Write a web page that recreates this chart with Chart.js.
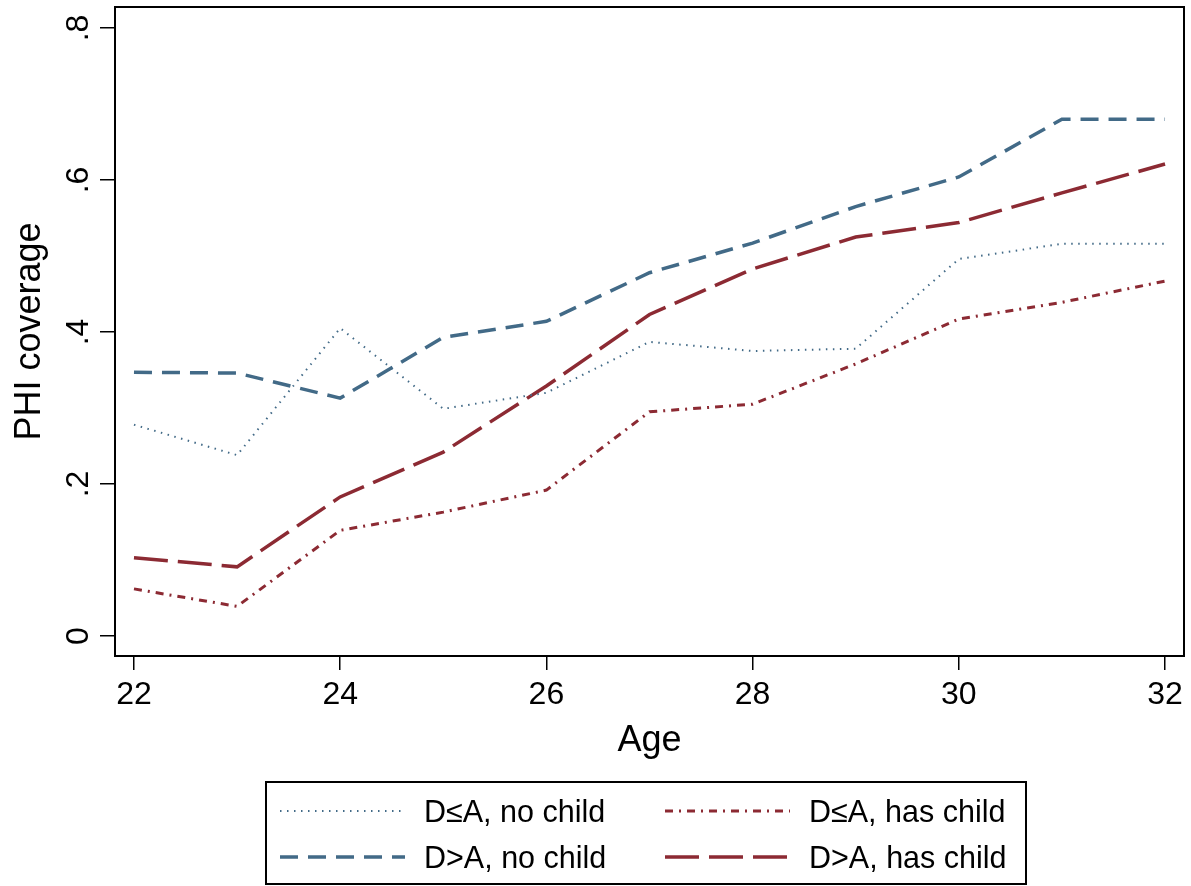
<!DOCTYPE html>
<html>
<head>
<meta charset="utf-8">
<script src="https://cdn.jsdelivr.net/npm/chart.js@4"></script>
<style>
  body { margin: 0; background: #fff; }
  #wrap { position: relative; width: 1191px; height: 886px; }
  #legend {
    position: absolute; left: 265px; top: 781px; width: 762px; height: 104px;
    border: 2px solid #000; box-sizing: border-box;
    font-family: "Liberation Sans", Arial, sans-serif; font-size: 30.5px; color: #000;
  }
  .item { position: absolute; display: flex; align-items: center; height: 40px; }
  .item span { margin-left: 19px; white-space: nowrap; }
</style>
</head>
<body>
<div id="wrap">
  <canvas id="chart" width="1191" height="886"></canvas>
  <div id="legend"></div>
</div>
<script>
const ages = [22, 23, 24, 25, 26, 27, 28, 29, 30, 31, 32];
const leNoChild  = [0.278, 0.238, 0.405, 0.299, 0.320, 0.387, 0.375, 0.378, 0.496, 0.516, 0.516];
const gtNoChild  = [0.347, 0.346, 0.313, 0.393, 0.414, 0.478, 0.517, 0.565, 0.604, 0.680, 0.680];
const leHasChild = [0.062, 0.039, 0.139, 0.163, 0.192, 0.295, 0.305, 0.358, 0.417, 0.439, 0.467];
const gtHasChild = [0.103, 0.091, 0.183, 0.242, 0.329, 0.423, 0.483, 0.525, 0.544, 0.583, 0.621];
const xTicks = [22, 24, 26, 28, 30, 32];
const yTicks = [0, 0.2, 0.4, 0.6, 0.8];

const blue = '#426a87';
const red = '#8c2a33';

const series = [
  { label: 'D\u2264A, no child',  data: leNoChild,  color: blue, width: 2,   dash: [1.5, 5.5] },
  { label: 'D>A, no child',       data: gtNoChild,  color: blue, width: 3.5, dash: [18, 10] },
  { label: 'D\u2264A, has child', data: leHasChild, color: red,  width: 3,   dash: [8, 6, 2, 6] },
  { label: 'D>A, has child',      data: gtHasChild, color: red,  width: 3.5, dash: [34, 10] }
];

const frame = {
  id: 'frame',
  afterDraw(chart) {
    const a = chart.chartArea;
    const ctx = chart.ctx;
    ctx.save();
    ctx.strokeStyle = '#000';
    ctx.lineWidth = 2;
    ctx.strokeRect(a.left, a.top, a.right - a.left, a.bottom - a.top);
    ctx.restore();
  }
};

const font = "'Liberation Sans', Arial, sans-serif";

new Chart(document.getElementById('chart'), {
  type: 'line',
  data: {
    datasets: series.map(s => ({
      label: s.label,
      data: ages.map((a, i) => ({ x: a, y: s.data[i] })),
      borderColor: s.color,
      borderWidth: s.width,
      borderDash: s.dash,
      pointRadius: 0,
      tension: 0,
      fill: false
    }))
  },
  options: {
    responsive: false,
    animation: false,
    layout: { padding: { top: 7, right: 7, left: 0, bottom: 130 } },
    plugins: { legend: { display: false }, tooltip: { enabled: false } },
    scales: {
      x: {
        type: 'linear',
        min: 21.816, max: 32.184,
        afterBuildTicks: s => { s.ticks = xTicks.map(v => ({ value: v })); },
        afterFit: s => { s.height = 100; s.paddingLeft = 0; s.paddingRight = 0; },
        grid: { drawOnChartArea: false, color: '#000', lineWidth: 1.5, tickLength: 14 },
        border: { color: '#000', width: 2 },
        ticks: { color: '#000', font: { family: font, size: 32 }, padding: 6, maxRotation: 0 },
        title: { display: true, text: 'Age', color: '#000', font: { family: font, size: 36, lineHeight: 0.85 }, padding: 0 }
      },
      y: {
        min: -0.0263, max: 0.8276,
        afterBuildTicks: s => { s.ticks = yTicks.map(v => ({ value: v })); },
        afterFit: s => { s.width = 115; s.paddingTop = 0; s.paddingBottom = 0; },
        grid: { drawOnChartArea: false, color: '#000', lineWidth: 1.5, tickLength: 15 },
        border: { color: '#000', width: 2 },
        ticks: {
          color: '#000', font: { family: font, size: 32 }, padding: 7,
          minRotation: 90, maxRotation: 90, crossAlign: 'center',
          callback: v => v === 0 ? '0' : String(v).replace(/^0\./, '.')
        },
        title: { display: true, text: 'PHI coverage', color: '#000', font: { family: font, size: 36, lineHeight: 1 }, padding: { top: 12, bottom: 0 } }
      }
    }
  },
  plugins: [frame]
});

// legend: two columns, D<=A on the first row
const legend = document.getElementById('legend');
const cols = [13, 398];
const rows = [8, 54];
const order = [0, 2, 1, 3];
order.forEach((idx, k) => {
  const s = series[idx];
  const div = document.createElement('div');
  div.className = 'item';
  div.style.left = cols[k % 2] + 'px';
  div.style.top = rows[Math.floor(k / 2)] + 'px';
  const svg = '<svg width="125" height="10"><line x1="0" y1="5" x2="125" y2="5" stroke="' + s.color +
    '" stroke-width="' + s.width + '" stroke-dasharray="' + s.dash.join(',') + '"/></svg>';
  div.innerHTML = svg + '<span>' + s.label + '</span>';
  legend.appendChild(div);
});
</script>
</body>
</html>
